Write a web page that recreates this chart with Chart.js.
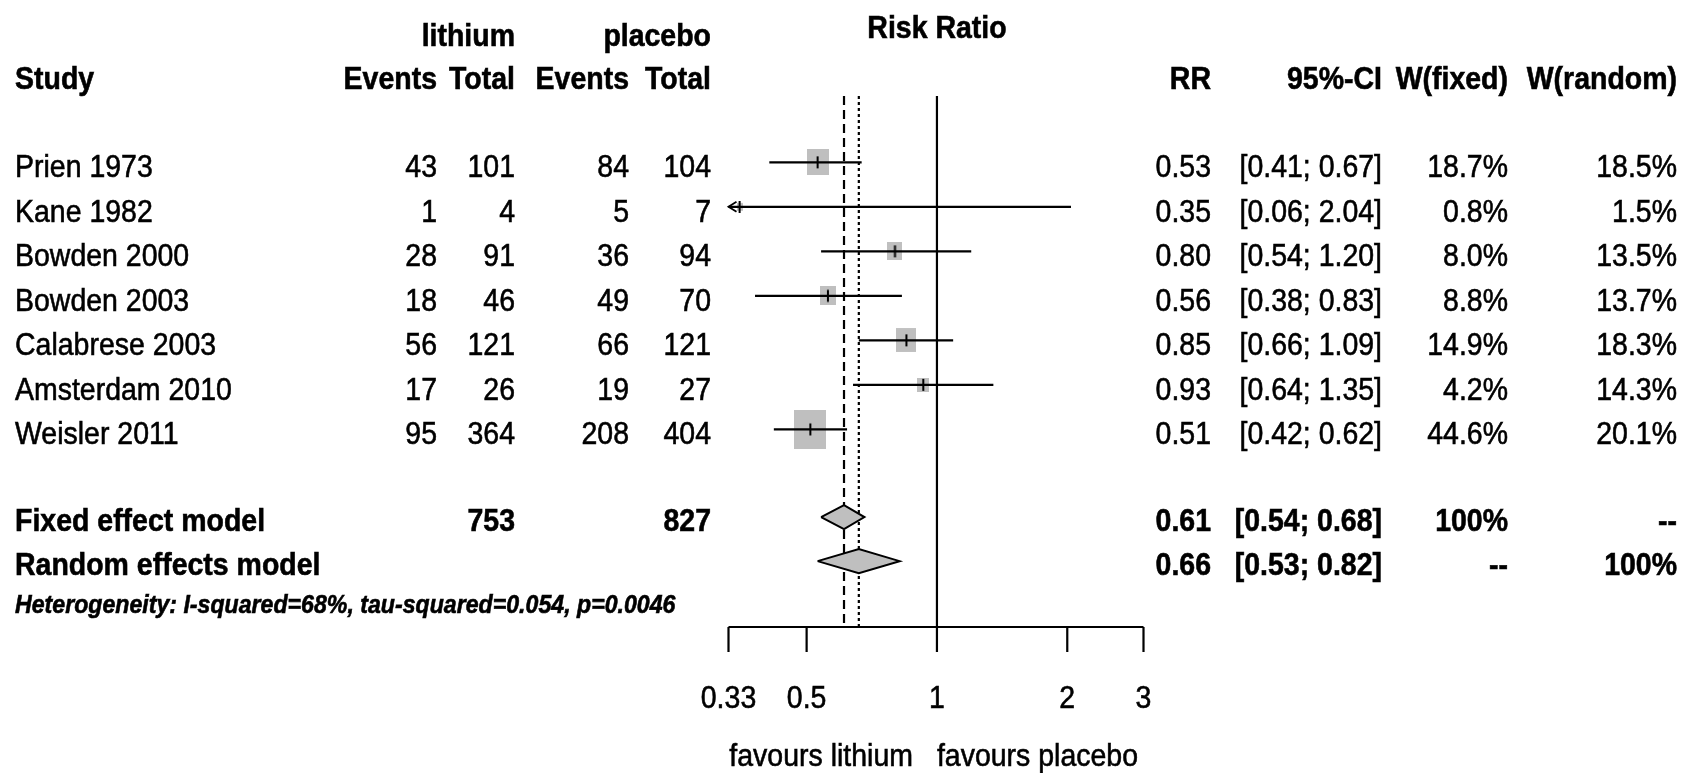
<!DOCTYPE html>
<html>
<head>
<meta charset="utf-8">
<script src="https://cdn.jsdelivr.net/npm/chart.js@4.4.1/dist/chart.umd.min.js"></script>
<style>
  html, body { margin: 0; padding: 0; background: #fff; }
  canvas { display: block; }
</style>
</head>
<body>
<canvas id="forest" width="1693" height="773"></canvas>
<script>
// study level data
const studies = ["Prien 1973", "Kane 1982", "Bowden 2000", "Bowden 2003", "Calabrese 2003", "Amsterdam 2010", "Weisler 2011"];
const lithiumEvents = [43, 1, 28, 18, 56, 17, 95];
const lithiumTotal = [101, 4, 91, 46, 121, 26, 364];
const placeboEvents = [84, 5, 36, 49, 66, 19, 208];
const placeboTotal = [104, 7, 94, 70, 121, 27, 404];
const riskRatio = [0.53, 0.35, 0.80, 0.56, 0.85, 0.93, 0.51];
const ciLower = [0.41, 0.06, 0.54, 0.38, 0.66, 0.64, 0.42];
const ciUpper = [0.67, 2.04, 1.20, 0.83, 1.09, 1.35, 0.62];
const weightFixed = [18.7, 0.8, 8.0, 8.8, 14.9, 4.2, 44.6];
const weightRandom = [18.5, 1.5, 13.5, 13.7, 18.3, 14.3, 20.1];

// pooled estimates
const models = ["Fixed effect model", "Random effects model"];
const modelRR = [0.61, 0.66];
const modelLower = [0.54, 0.53];
const modelUpper = [0.68, 0.82];
const modelWFixed = ["100%", "--"];
const modelWRandom = ["--", "100%"];
const pooledTotals = [753, 827];
const heterogeneity = "Heterogeneity: I-squared=68%, tau-squared=0.054, p=0.0046";

const xTicks = [0.33, 0.5, 1, 2, 3];
const xTickLabels = ["0.33", "0.5", "1", "2", "3"];

// layout
const FONT = "'Liberation Sans', Arial, sans-serif";
const SX = 0.89;              // narrow the glyphs a little
const Y_MIN = -1.49, Y_MAX = 10.44;
const studyRows = studies.map((s, i) => i);
const modelRows = [7.97, 8.96];
const hetRow = 9.95;
const GREY = "#bfbfbf";

function boxImage(w) {
  const h = 5.4 * Math.sqrt(w) + 3;
  const bw = Math.max(2, Math.round(h * 0.82));
  const c = document.createElement("canvas");
  c.width = bw;
  c.height = Math.max(12, Math.round(h));
  const g = c.getContext("2d");
  g.fillStyle = GREY;
  g.fillRect(0, (c.height - h) / 2, bw, h);
  g.fillStyle = "#000";
  g.fillRect(bw / 2 - 1, c.height / 2 - 6, 2, 12);
  return c;
}

function txt(ctx, s, x, y, align, font) {
  ctx.save();
  ctx.font = font;
  ctx.translate(x, y);
  ctx.scale(SX, 1);
  ctx.textAlign = align;
  ctx.textBaseline = "alphabetic";
  ctx.fillText(s, 0, 0);
  ctx.lineWidth = 0.6;
  ctx.strokeText(s, 0, 0);
  ctx.restore();
}

const datasets = [];

// confidence intervals
studies.forEach((s, i) => {
  datasets.push({
    type: "line",
    data: [{ x: ciLower[i], y: studyRows[i] }, { x: ciUpper[i], y: studyRows[i] }],
    borderColor: "#000",
    borderWidth: 2.2,
    pointRadius: 0,
    fill: false
  });
});

// study boxes
datasets.push({
  type: "line",
  showLine: false,
  data: studies.map((s, i) => ({ x: riskRatio[i], y: studyRows[i] })),
  pointStyle: weightFixed.map(boxImage),
  pointRadius: 3
});

// pooled diamonds
models.forEach((m, i) => {
  const r = modelRows[i], d = 0.27;
  datasets.push({
    type: "line",
    data: [
      { x: modelLower[i], y: r },
      { x: modelRR[i], y: r - d },
      { x: modelUpper[i], y: r },
      { x: modelRR[i], y: r + d },
      { x: modelLower[i], y: r }
    ],
    borderColor: "#000",
    borderWidth: 2,
    backgroundColor: GREY,
    fill: "shape",
    pointRadius: 0,
    tension: 0
  });
});

// reference lines: no effect, fixed and random estimates
[[1, []], [modelRR[0], [9, 5]], [modelRR[1], [3, 3]]].forEach(([v, dash]) => {
  datasets.push({
    type: "line",
    data: [{ x: v, y: Y_MIN }, { x: v, y: Y_MAX }],
    borderColor: "#000",
    borderWidth: 2.2,
    borderDash: dash,
    pointRadius: 0,
    fill: false
  });
});

const tablePlugin = {
  id: "forestTable",
  afterDraw(chart) {
    const ctx = chart.ctx;
    const xs = chart.scales.x, ys = chart.scales.y;
    const reg = "32px " + FONT, bold = "bold 32px " + FONT, ital = "italic bold 26px " + FONT;
    const col = { study: 15, evL: 437, totL: 515, evP: 629, totP: 711, rr: 1211, ci: 1382, wf: 1508, wr: 1677 };
    ctx.save();
    ctx.fillStyle = "#000";
    ctx.strokeStyle = "#000";

    // headers
    txt(ctx, "Risk Ratio", xs.getPixelForValue(1), 38, "center", bold);
    txt(ctx, "lithium", col.totL, 46, "right", bold);
    txt(ctx, "placebo", col.totP, 46, "right", bold);
    txt(ctx, "Study", col.study, 89, "left", bold);
    txt(ctx, "Events", col.evL, 89, "right", bold);
    txt(ctx, "Total", col.totL, 89, "right", bold);
    txt(ctx, "Events", col.evP, 89, "right", bold);
    txt(ctx, "Total", col.totP, 89, "right", bold);
    txt(ctx, "RR", col.rr, 89, "right", bold);
    txt(ctx, "95%-CI", col.ci, 89, "right", bold);
    txt(ctx, "W(fixed)", col.wf, 89, "right", bold);
    txt(ctx, "W(random)", col.wr, 89, "right", bold);

    // study rows
    studies.forEach((s, i) => {
      const y = ys.getPixelForValue(studyRows[i]) + 15;
      txt(ctx, s, col.study, y, "left", reg);
      txt(ctx, String(lithiumEvents[i]), col.evL, y, "right", reg);
      txt(ctx, String(lithiumTotal[i]), col.totL, y, "right", reg);
      txt(ctx, String(placeboEvents[i]), col.evP, y, "right", reg);
      txt(ctx, String(placeboTotal[i]), col.totP, y, "right", reg);
      txt(ctx, riskRatio[i].toFixed(2), col.rr, y, "right", reg);
      txt(ctx, "[" + ciLower[i].toFixed(2) + "; " + ciUpper[i].toFixed(2) + "]", col.ci, y, "right", reg);
      txt(ctx, weightFixed[i].toFixed(1) + "%", col.wf, y, "right", reg);
      txt(ctx, weightRandom[i].toFixed(1) + "%", col.wr, y, "right", reg);
    });

    // pooled rows
    models.forEach((m, i) => {
      const y = ys.getPixelForValue(modelRows[i]) + 14;
      txt(ctx, m, col.study, y, "left", bold);
      if (i === 0) {
        txt(ctx, String(pooledTotals[0]), col.totL, y, "right", bold);
        txt(ctx, String(pooledTotals[1]), col.totP, y, "right", bold);
      }
      txt(ctx, modelRR[i].toFixed(2), col.rr, y, "right", bold);
      txt(ctx, "[" + modelLower[i].toFixed(2) + "; " + modelUpper[i].toFixed(2) + "]", col.ci, y, "right", bold);
      txt(ctx, modelWFixed[i], col.wf, y, "right", bold);
      txt(ctx, modelWRandom[i], col.wr, y, "right", bold);
    });
    txt(ctx, heterogeneity, col.study, ys.getPixelForValue(hetRow) + 8, "left", ital);

    // arrow where an interval runs past the axis
    const left = chart.chartArea.left;
    ctx.lineWidth = 1.8;
    studies.forEach((s, i) => {
      if (ciLower[i] < xs.min) {
        const y = ys.getPixelForValue(studyRows[i]);
        ctx.beginPath();
        ctx.moveTo(left + 8, y - 5);
        ctx.lineTo(left, y);
        ctx.lineTo(left + 8, y + 5);
        ctx.stroke();
      }
    });

    // x axis
    const axY = chart.chartArea.bottom;
    ctx.lineWidth = 2.2;
    ctx.beginPath();
    ctx.moveTo(xs.getPixelForValue(xTicks[0]), axY);
    ctx.lineTo(xs.getPixelForValue(xTicks[xTicks.length - 1]), axY);
    xTicks.forEach(v => {
      const px = xs.getPixelForValue(v);
      ctx.moveTo(px, axY);
      ctx.lineTo(px, axY + 25);
    });
    ctx.stroke();
    xTicks.forEach((v, i) => txt(ctx, xTickLabels[i], xs.getPixelForValue(v), axY + 81, "center", reg));
    const one = xs.getPixelForValue(1);
    txt(ctx, "favours lithium", one - 24, axY + 139, "right", reg);
    txt(ctx, "favours placebo", one, axY + 139, "left", reg);
    ctx.restore();
  }
};

new Chart(document.getElementById("forest").getContext("2d"), {
  type: "line",
  data: { datasets: datasets },
  options: {
    responsive: false,
    animation: false,
    events: [],
    layout: { padding: { left: 728.5, right: 549.5, top: 96, bottom: 146 } },
    scales: {
      x: { type: "logarithmic", min: xTicks[0], max: xTicks[xTicks.length - 1], bounds: "data", display: false },
      y: { type: "linear", min: Y_MIN, max: Y_MAX, reverse: true, bounds: "data", display: false }
    },
    plugins: { legend: { display: false }, tooltip: { enabled: false } }
  },
  plugins: [tablePlugin]
});
</script>
</body>
</html>
